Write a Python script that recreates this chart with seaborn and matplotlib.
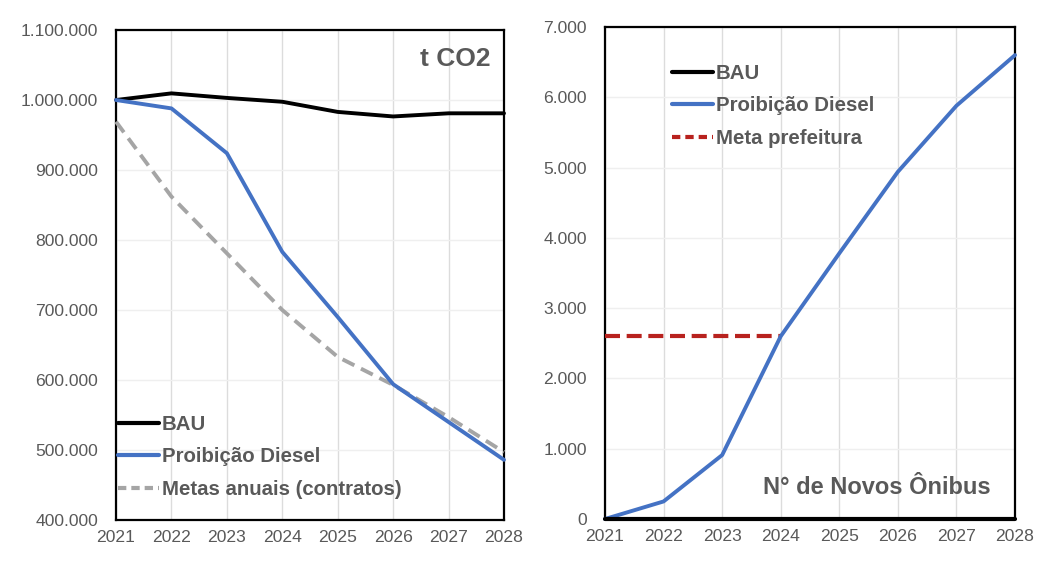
import matplotlib
matplotlib.use("Agg")
import matplotlib.pyplot as plt
from matplotlib.ticker import FuncFormatter, MultipleLocator
from matplotlib.lines import Line2D
import seaborn as sns
import pandas as pd

years = [2021, 2022, 2023, 2024, 2025, 2026, 2027, 2028]

# Left panel: emissions (t CO2)
co2_bau = [1000000, 1009500, 1003000, 997500, 983000, 976500, 981000, 981000]
co2_proibicao = [1000000, 988000, 924000, 783000, 690000, 594000, 540000, 486000]
co2_metas = [969000, 862000, 781000, 700000, 633000, 593000, 547000, 497000]

# Right panel: number of new buses
bus_bau = [0, 0, 0, 0, 0, 0, 0, 0]
bus_proibicao = [0, 250, 910, 2600, 3780, 4940, 5880, 6600]
meta_years = [2021, 2022, 2023, 2024]
meta_prefeitura = [2600, 2600, 2600, 2600]

left_labels = ["BAU", "Proibição Diesel", "Metas anuais (contratos)"]
right_labels = ["BAU", "Proibição Diesel", "Meta prefeitura"]
left_title = "t CO2"
right_title = "N° de Novos Ônibus"

BLACK = "#000000"
BLUE = "#4472C4"
GRAY = "#A5A5A5"
RED = "#B8221E"
TXT = "#595959"

sns.set_style("white")
plt.rcParams["font.family"] = ["Liberation Sans", "DejaVu Sans"]

fig = plt.figure(figsize=(10.5, 5.62), dpi=100)
axL = fig.add_axes([0.1105, 0.0747, 0.3695, 0.8719])
axR = fig.add_axes([0.5762, 0.0765, 0.3905, 0.8755])

fmt = FuncFormatter(lambda v, p: f"{int(round(v)):,}".replace(",", "."))

def style_axis(ax):
    for s in ax.spines.values():
        s.set_visible(True)
        s.set_color("black")
        s.set_linewidth(1.6)
    ax.set_xlim(2021, 2028)
    ax.xaxis.set_major_locator(MultipleLocator(1))
    ax.yaxis.set_major_formatter(fmt)
    ax.xaxis.grid(True, color="#DCDCDC", linewidth=1.0)
    ax.yaxis.grid(True, color="#EFEFEF", linewidth=1.0)
    ax.set_axisbelow(True)
    ax.tick_params(axis="both", labelsize=12.6, labelcolor=TXT, colors=TXT)
    ax.tick_params(axis="x", direction="out", length=4, color="black", width=1.2, pad=3)
    ax.tick_params(axis="y", direction="in", length=4, color="black", width=1.2, pad=13)
    ax.set_xlabel("")
    ax.set_ylabel("")

LW = 2.8

# Left
sns.lineplot(x=years, y=co2_metas, ax=axL, color=GRAY, linewidth=LW,
             linestyle=(0, (3.4, 1.9)), zorder=3)
sns.lineplot(x=years, y=co2_bau, ax=axL, color=BLACK, linewidth=LW, zorder=4)
sns.lineplot(x=years, y=co2_proibicao, ax=axL, color=BLUE, linewidth=LW, zorder=5)
axL.set_ylim(400000, 1100000)
axL.yaxis.set_major_locator(MultipleLocator(100000))
style_axis(axL)
for ln in axL.lines:
    ln.set_clip_on(False)

hL = [Line2D([], [], color=BLACK, lw=3.0),
      Line2D([], [], color=BLUE, lw=3.0),
      Line2D([], [], color=GRAY, lw=3.0, linestyle=(0, (2.0, 1.2)))]
legL = axL.legend(hL, left_labels, loc="lower left", bbox_to_anchor=(0.005, 0.043),
                  frameon=False, fontsize=14.7, handlelength=2.0, handletextpad=0.15,
                  labelspacing=0.66, borderpad=0, borderaxespad=0)
for t in legL.get_texts():
    t.set_color(TXT)
    t.set_fontweight("bold")
axL.text(0.964, 0.94, left_title, transform=axL.transAxes, ha="right", va="center",
         fontsize=19, fontweight="bold", color=TXT)

# Right
sns.lineplot(x=meta_years, y=meta_prefeitura, ax=axR, color=RED, linewidth=3.0,
             linestyle=(0, (3.6, 1.6)), zorder=3)
sns.lineplot(x=years, y=bus_proibicao, ax=axR, color=BLUE, linewidth=LW, zorder=4)
sns.lineplot(x=years, y=bus_bau, ax=axR, color=BLACK, linewidth=3.0, zorder=5)
axR.set_ylim(0, 7000)
axR.yaxis.set_major_locator(MultipleLocator(1000))
style_axis(axR)
axR.xaxis.set_minor_locator(MultipleLocator(0.5))
axR.tick_params(axis="x", which="minor", direction="in", length=3, color="black")
for ln in axR.lines:
    ln.set_clip_on(False)

hR = [Line2D([], [], color=BLACK, lw=3.0),
      Line2D([], [], color=BLUE, lw=3.0),
      Line2D([], [], color=RED, lw=3.0, linestyle=(0, (2.0, 1.2)))]
legR = axR.legend(hR, right_labels, loc="upper left", bbox_to_anchor=(0.163, 0.925),
                  frameon=False, fontsize=14.7, handlelength=2.0, handletextpad=0.15,
                  labelspacing=0.66, borderpad=0, borderaxespad=0)
for t in legR.get_texts():
    t.set_color(TXT)
    t.set_fontweight("bold")
axR.text(0.941, 0.065, right_title, transform=axR.transAxes, ha="right", va="center",
         fontsize=17, fontweight="bold", color=TXT)

fig.savefig("out.png", dpi=100)
